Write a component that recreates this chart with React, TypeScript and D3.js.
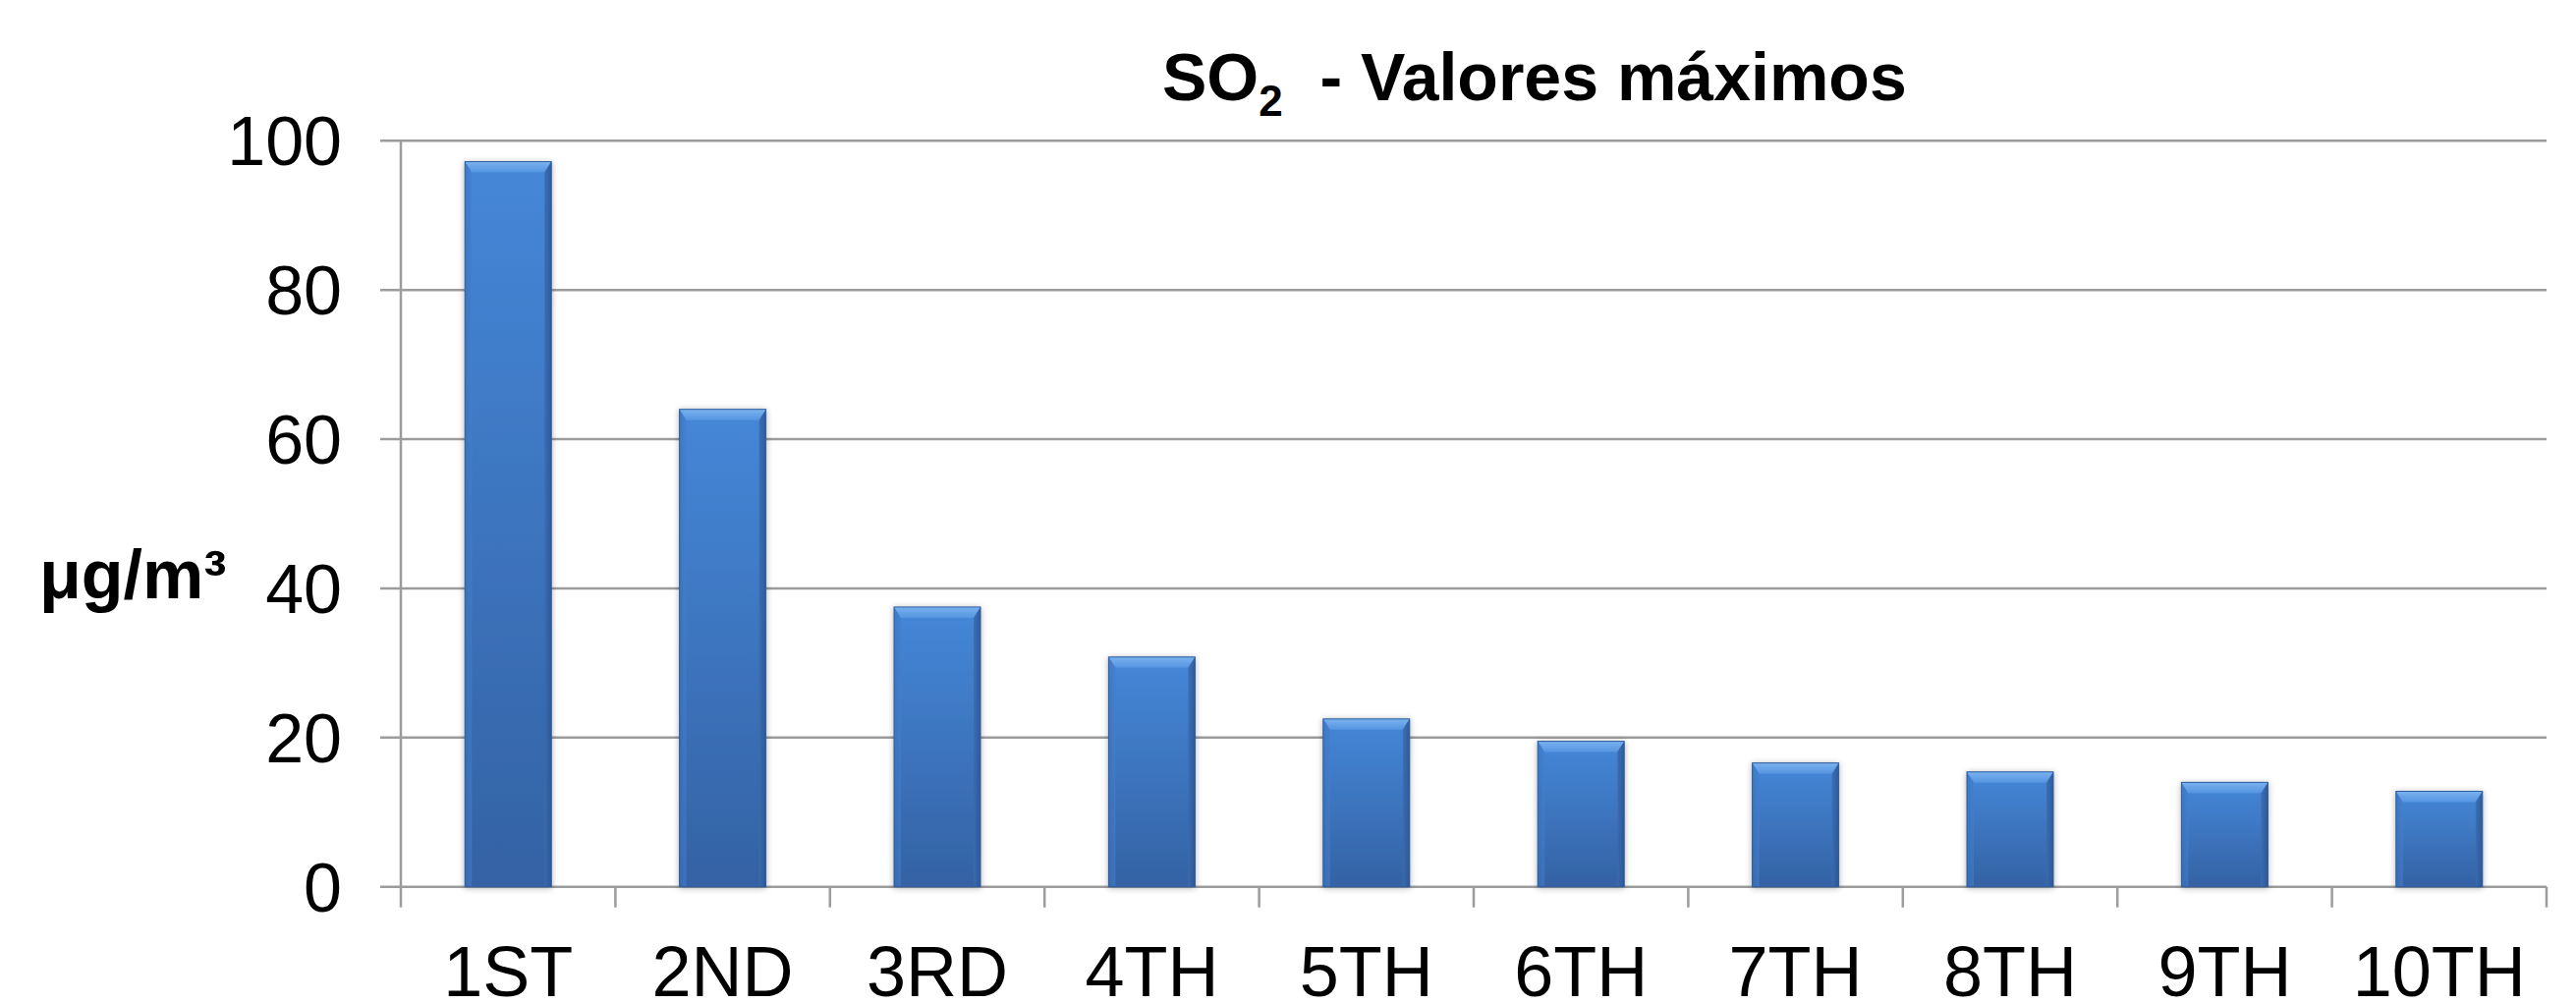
import React from "react";
import * as d3 from "d3";

const categories = ["1ST", "2ND", "3RD", "4TH", "5TH", "6TH", "7TH", "8TH", "9TH", "10TH"];
const values = [97.2, 64.0, 37.5, 30.8, 22.5, 19.5, 16.6, 15.4, 14.0, 12.8];
const yTicks = [0, 20, 40, 60, 80, 100];
const titleMain = "SO";
const titleSub = "2";
const titleRest = " - Valores máximos";
const yLabel = "μg/m³";

const W = 2622;
const H = 1021;
const plot = { left: 408, right: 2592, top: 143.3, bottom: 902.7 };
const FONT = "'Liberation Sans', Arial, Helvetica, sans-serif";

export default function App() {
  const x = d3
    .scaleBand<string>()
    .domain(categories)
    .range([plot.left, plot.right])
    .paddingInner(0.597)
    .paddingOuter(0.597 / 2);
  const y = d3.scaleLinear().domain([0, 100]).range([plot.bottom, plot.top]);
  const step = x.step();
  const bw = x.bandwidth();
  const tickLen = 21;
  const grid = "#9c9c9c";
  const bTop = 11;
  const bSide = 7;

  const boundaries = d3.range(categories.length + 1).map((i) => plot.left + i * step);

  return (
    <svg
      width={W}
      height={H}
      style={{ position: "absolute", left: 0, top: 0, display: "block", background: "#fff" }}
    >
      <defs>
        <linearGradient id="barFill" x1="0" y1="0" x2="0" y2="1">
          <stop offset="0%" stopColor="#4587d8" />
          <stop offset="100%" stopColor="#3462a4" />
        </linearGradient>
        <linearGradient id="topBevel" x1="0" y1="0" x2="0" y2="1">
          <stop offset="0%" stopColor="#7ab2f0" />
          <stop offset="100%" stopColor="#5594e0" />
        </linearGradient>
        <linearGradient id="rightBevel" x1="0" y1="0" x2="1" y2="0">
          <stop offset="0%" stopColor="#3a6cb0" />
          <stop offset="100%" stopColor="#2b5490" />
        </linearGradient>
        <linearGradient id="leftBevel" x1="0" y1="0" x2="1" y2="0">
          <stop offset="0%" stopColor="#3a70b8" />
          <stop offset="100%" stopColor="#437fcd" />
        </linearGradient>
        <filter id="shadow" x="-20%" y="-5%" width="140%" height="115%">
          <feDropShadow dx="0" dy="1" stdDeviation="3" floodColor="#000" floodOpacity="0.3" />
        </filter>
      </defs>

      {/* gridlines incl. outward y ticks */}
      {yTicks.map((t) => (
        <line
          key={"g" + t}
          x1={plot.left - tickLen}
          x2={plot.right}
          y1={y(t)}
          y2={y(t)}
          stroke={grid}
          strokeWidth={2.5}
        />
      ))}
      {/* y axis line */}
      <line x1={plot.left} x2={plot.left} y1={y(100)} y2={y(0)} stroke={grid} strokeWidth={2.5} />
      {/* x ticks */}
      {boundaries.map((bx, i) => (
        <line
          key={"xt" + i}
          x1={bx}
          x2={bx}
          y1={y(0)}
          y2={y(0) + tickLen}
          stroke={grid}
          strokeWidth={2.5}
        />
      ))}

      {/* bars */}
      {categories.map((c, i) => {
        const bx = x(c) as number;
        const by = y(values[i]);
        const bh = y(0) - by;
        return (
          <g key={c} filter="url(#shadow)">
            <rect x={bx} y={by} width={bw} height={bh} fill="url(#barFill)" />
            <polygon
              points={`${bx},${by} ${bx + bw},${by} ${bx + bw - bSide},${by + bTop} ${bx + bSide},${by + bTop}`}
              fill="url(#topBevel)"
            />
            <polygon
              points={`${bx + bw},${by} ${bx + bw},${by + bh} ${bx + bw - bSide},${by + bh} ${bx + bw - bSide},${by + bTop}`}
              fill="url(#rightBevel)"
              opacity={0.85}
            />
            <polygon
              points={`${bx},${by} ${bx + bSide},${by + bTop} ${bx + bSide},${by + bh} ${bx},${by + bh}`}
              fill="url(#leftBevel)"
              opacity={0.6}
            />
            <rect x={bx} y={by} width={bw} height={bh} fill="none" stroke="#2f5d9c" strokeWidth={1} />
          </g>
        );
      })}

      {/* y tick labels */}
      {yTicks.map((t) => (
        <text
          key={"yl" + t}
          x={348}
          y={y(t) + 25}
          textAnchor="end"
          fontFamily={FONT}
          fontSize={70}
          fill="#000"
        >
          {t}
        </text>
      ))}

      {/* x labels */}
      {categories.map((c) => (
        <text
          key={"xl" + c}
          x={(x(c) as number) + bw / 2}
          y={1014}
          textAnchor="middle"
          fontFamily={FONT}
          fontSize={72}
          fill="#000"
        >
          {c}
        </text>
      ))}

      {/* y axis title */}
      <text x={40} y={609} fontFamily={FONT} fontSize={70} fontWeight="bold" fill="#000">
        {yLabel}
      </text>

      {/* chart title */}
      <text x={1183} y={102} fontFamily={FONT} fontSize={68} fontWeight="bold" fill="#000">
        <tspan>{titleMain}</tspan>
        <tspan fontSize={44} dy={16}>
          {titleSub}
        </tspan>
        <tspan dy={-16}>{"\u00a0" + titleRest}</tspan>
      </text>
    </svg>
  );
}
